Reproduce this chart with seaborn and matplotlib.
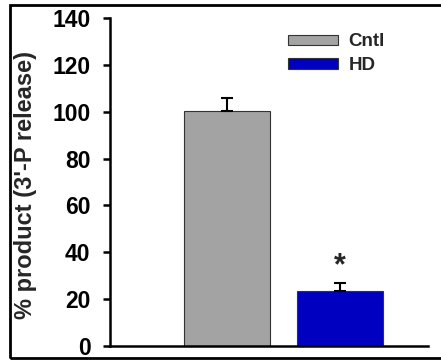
import matplotlib
matplotlib.use("Agg")
import matplotlib.pyplot as plt
import seaborn as sns
import pandas as pd
from matplotlib.patches import Rectangle

groups = ["Cntl", "HD"]
values = [100.3, 23.5]
errors = [5.6, 3.4]
colors = ["#A3A3A3", "#0000C0"]
star_label = "*"
star_y = 34
yticks = [0, 20, 40, 60, 80, 100, 120, 140]

sns.set_style("white")
plt.rcParams['font.family'] = ['Liberation Sans', 'DejaVu Sans']
plt.rcParams['font.weight'] = 'bold'

df = pd.DataFrame({"group": groups, "value": values})

fig = plt.figure(figsize=(4.41, 3.6), dpi=100)
ax = fig.add_axes([110/441, 1-346/360, (428-110)/441, (346-18)/360])

sns.barplot(data=df, x="group", y="value", hue="group", palette=colors,
            order=groups, hue_order=groups, width=0.76, dodge=False, saturation=1,
            edgecolor="#333333", linewidth=0.8, errorbar=None, ax=ax, legend=True)

xs = list(range(len(groups)))
ax.errorbar(xs, values, yerr=[[0]*len(errors), errors], fmt="none",
            ecolor="black", elinewidth=1.5, capsize=4.5, capthick=1.5, zorder=3)
ax.text(xs[1], star_y, star_label, ha="center", va="center",
        fontsize=22, fontweight="bold")

ax.set_xlim(-1.035, 1.0 + (428-340)/113)
ax.set_ylim(0, 140)
ax.set_yticks(yticks)
ax.set_yticklabels([str(t) for t in yticks], fontsize=16.5, fontweight="bold")
ax.set_xticks([])
ax.set_xlabel("")
ax.set_ylabel("% product (3'-P release)", fontsize=17, fontweight="bold")
ax.yaxis.set_label_coords(-(110-37)/318, 0.49)

for s in ["top", "right"]:
    ax.spines[s].set_visible(False)
for s in ["left", "bottom"]:
    ax.spines[s].set_color("black")
    ax.spines[s].set_linewidth(1.8)
ax.tick_params(axis="y", direction="out", length=5, width=1.8, pad=9,
               left=True, colors="black")

leg = ax.legend(loc="upper left", bbox_to_anchor=((280-110)/318, 1-(26-18)/328),
                frameon=False, handlelength=2.7, handleheight=0.5,
                handletextpad=0.55, labelspacing=0.35, borderaxespad=0,
                prop={"weight": "bold", "size": 13.5})

fig.patches.append(Rectangle((10/441, 2/360), 1.0, 353/360, transform=fig.transFigure,
                             fill=False, edgecolor="black", linewidth=2))

fig.savefig("out.png", dpi=100)
